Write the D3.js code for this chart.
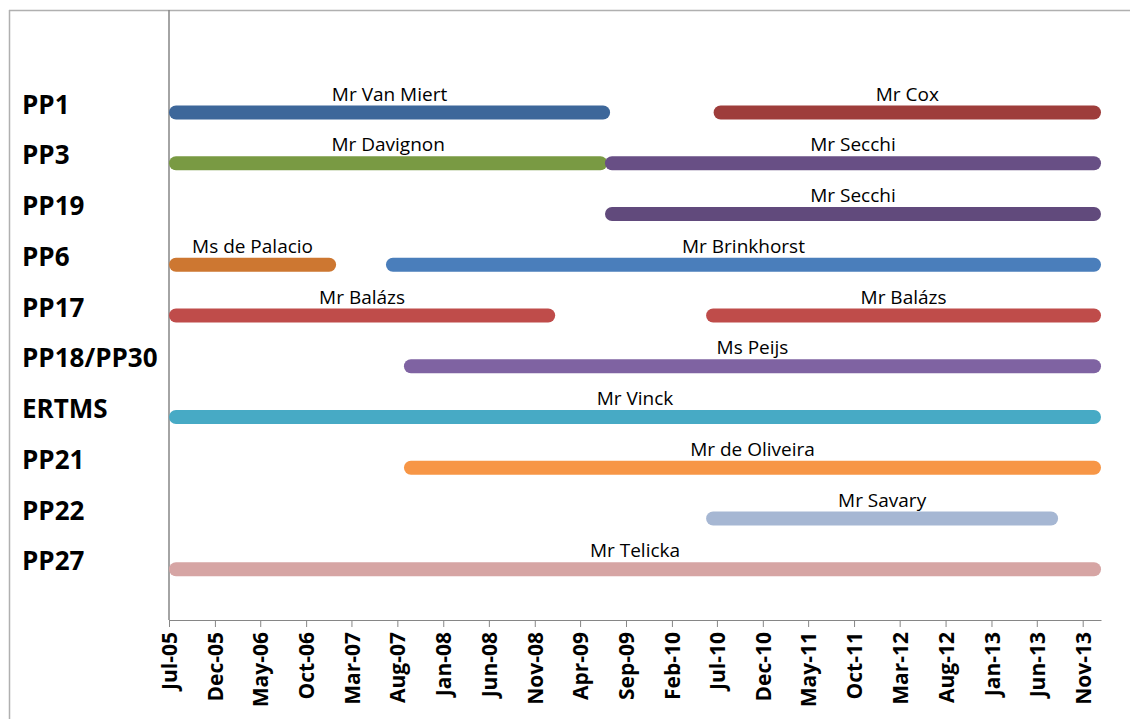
<!DOCTYPE html>
<html>
<head>
<meta charset="utf-8">
<script src="https://cdn.jsdelivr.net/npm/d3@7"></script>
<style>
  body { margin: 0; background: #fff; }
  svg { display: block; }
</style>
</head>
<body>
<svg id="vis" width="1130" height="719"></svg>
<script>
const svg = d3.select('#vis');
const width = +svg.attr('width');
const height = +svg.attr('height');

// chart area
const margin = { top: 11, right: 29, bottom: 99, left: 169 };

// rows from top to bottom
const projects = ['PP1', 'PP3', 'PP19', 'PP6', 'PP17', 'PP18/PP30', 'ERTMS', 'PP21', 'PP22', 'PP27'];

// one entry per coordinator mandate
const segProject = ['PP1', 'PP1', 'PP3', 'PP3', 'PP19', 'PP6', 'PP6', 'PP17', 'PP17', 'PP18/PP30', 'ERTMS', 'PP21', 'PP22', 'PP27'];
const segPerson = ['Mr Van Miert', 'Mr Cox', 'Mr Davignon', 'Mr Secchi', 'Mr Secchi', 'Ms de Palacio', 'Mr Brinkhorst',
  'Mr Balázs', 'Mr Balázs', 'Ms Peijs', 'Mr Vinck', 'Mr de Oliveira', 'Mr Savary', 'Mr Telicka'];
const segStart = ['2005-07-01', '2010-06-20', '2005-07-01', '2009-06-23', '2009-06-23', '2005-07-01', '2007-06-24',
  '2005-07-01', '2010-05-26', '2007-08-23', '2005-07-01', '2007-08-23', '2010-05-26', '2005-07-01'];
const segEnd = ['2009-07-10', '2014-01-01', '2009-07-01', '2014-01-01', '2014-01-01', '2007-01-09', '2014-01-01',
  '2009-01-08', '2014-01-01', '2014-01-01', '2014-01-01', '2014-01-01', '2013-08-11', '2014-01-01'];
const segColor = ['#3d679a', '#9e3d3b', '#799a43', '#684f85', '#614a7c', '#cd7731', '#4a7ebb',
  '#bf4c4a', '#bf4c4a', '#7f63a2', '#47aac5', '#f79646', '#a6b7d3', '#d6a5a4'];

// x axis tick labels
const tickLabels = ['Jul-05', 'Dec-05', 'May-06', 'Oct-06', 'Mar-07', 'Aug-07', 'Jan-08', 'Jun-08', 'Nov-08', 'Apr-09', 'Sep-09',
  'Feb-10', 'Jul-10', 'Dec-10', 'May-11', 'Oct-11', 'Mar-12', 'Aug-12', 'Jan-13', 'Jun-13', 'Nov-13'];

const parseDay = d3.timeParse('%Y-%m-%d');
const parseTick = d3.timeParse('%b-%y');

const segments = segProject.map((p, i) => ({
  project: p,
  person: segPerson[i],
  start: parseDay(segStart[i]),
  end: parseDay(segEnd[i]),
  color: segColor[i],
}));

const x = d3
  .scaleTime()
  .domain([parseDay('2005-07-01'), parseDay('2014-01-01')])
  .range([margin.left, width - margin.right]);

// rows sit at 10..1, the frame covers 0..12
const y = d3
  .scaleLinear()
  .domain([0, 12])
  .range([height - margin.bottom, margin.top]);
const rowY = p => y(projects.length - projects.indexOf(p));

// outer frame (top and left only visible)
svg.append('line')
  .attr('x1', 9).attr('x2', width).attr('y1', 10.5).attr('y2', 10.5)
  .attr('stroke', '#b0b0b0').attr('stroke-width', 1.5);
svg.append('line')
  .attr('x1', 9.5).attr('x2', 9.5).attr('y1', 10).attr('y2', height)
  .attr('stroke', '#b0b0b0').attr('stroke-width', 1.5);

// x axis
const xAxis = svg
  .append('g')
  .attr('transform', `translate(0,${y(0)})`)
  .call(
    d3.axisBottom(x)
      .tickValues(tickLabels.map(parseTick))
      .tickFormat(d3.timeFormat('%b-%y'))
      .tickSizeInner(7)
      .tickSizeOuter(0)
  );
xAxis.select('.domain').attr('stroke', '#868686');
xAxis.selectAll('.tick line').attr('stroke', '#868686');
xAxis
  .selectAll('.tick text')
  .attr('transform', 'rotate(-90)')
  .attr('x', -12)
  .attr('y', 0)
  .attr('dy', '0.36em')
  .style('text-anchor', 'end')
  .style('font-family', "'Open Sans', sans-serif")
  .style('font-weight', 'bold')
  .style('font-size', '21px')
  .attr('fill', '#000');

// y axis line
svg.append('line')
  .attr('x1', margin.left).attr('x2', margin.left)
  .attr('y1', margin.top - 1).attr('y2', y(0))
  .attr('stroke', '#868686').attr('stroke-width', 1.5);

// project names
svg
  .selectAll('text.project')
  .data(projects)
  .enter()
  .append('text')
  .attr('class', 'project')
  .attr('x', 22)
  .attr('y', d => rowY(d) + 1)
  .text(d => d)
  .style('font-family', "'Open Sans', sans-serif")
  .style('font-weight', 'bold')
  .style('font-size', '26px')
  .style('fill', '#000');

// bars
svg
  .selectAll('rect.bar')
  .data(segments)
  .enter()
  .append('rect')
  .attr('class', 'bar')
  .attr('x', d => x(d.start))
  .attr('y', d => rowY(d.project) - 7)
  .attr('width', d => x(d.end) - x(d.start))
  .attr('height', 14)
  .attr('rx', 7)
  .attr('fill', d => d.color);

// names above bars
svg
  .selectAll('text.label')
  .data(segments)
  .enter()
  .append('text')
  .attr('class', 'label')
  .attr('x', d => (x(d.start) + x(d.end)) / 2)
  .attr('y', d => rowY(d.project) - 12)
  .text(d => d.person)
  .style('text-anchor', 'middle')
  .style('font-family', "'Open Sans', sans-serif")
  .style('font-size', '19px')
  .style('fill', '#000');
</script>
</body>
</html>
